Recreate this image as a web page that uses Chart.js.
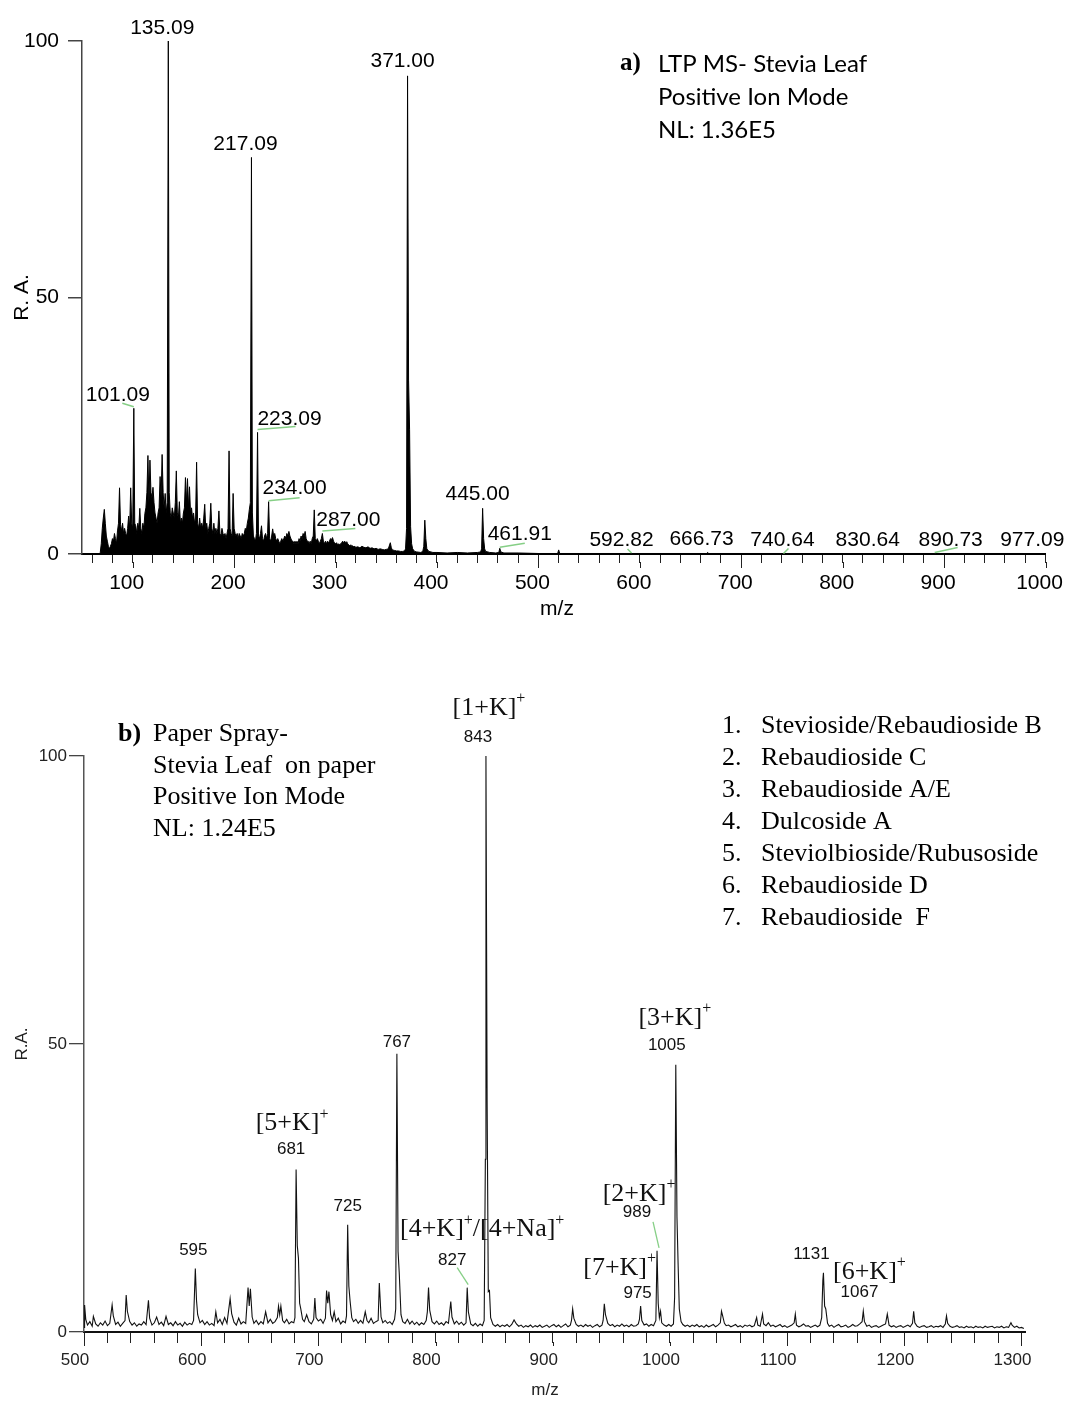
<!DOCTYPE html>
<html><head><meta charset="utf-8">
<script src="https://cdn.jsdelivr.net/npm/chart.js@4.4.1/dist/chart.umd.min.js"></script>
<style>
html,body{margin:0;padding:0;background:#fff;}
#wrap{position:relative;width:1070px;height:1402px;overflow:hidden;}
canvas{position:absolute;left:0;}
#ca{top:0}
#cb{top:650px}
</style></head><body>
<div id="wrap"><canvas id="ca" width="1070" height="650"></canvas><canvas id="cb" width="1070" height="752"></canvas></div>
<script>
// ---------------- DATA: panel a (LTP MS) ----------------
const spectrumA_low = [[67,0],[68,0.3],[69,2],[70,5],[71,7],[72,8.7],[73,6],[74,3.5],[75,2.5],[76,1.5],[77,1],[78,1.5],[79,2],[80,3],[81,2.5],[82,4],[83,3],[84,2],[85,4.5],[86,6],[87,12.9],[88,5.7],[89,4.5],[90,6],[91,4],[92,5],[93,4],[94,3.5],[95,5],[96,7.4],[97,5],[98,12.9],[99,6],[100,5],[101.09,28.4],[102,6],[103,5.5],[104,4],[105,6],[106,5],[107,8.9],[108,5],[109,4],[110,6],[111,5],[112,7.9],[113,9],[114,12],[115,19.2],[116,10],[117,18.3],[118,12],[119,11],[120,13],[121,10],[122,8],[123,7],[124,6],[125,8],[126,9],[127,15.1],[128,11],[129,19.4],[130,12],[131,9],[132,11.8],[133,8],[134,10],[135.09,100],[136,12],[137,8],[138,7],[139,9],[140,8],[141,7],[142,10],[143,16.2],[144,8],[145,7],[146,10.2],[147,6],[148,7],[149,6],[150,8],[151,9],[152,14.9],[153,10],[154,14.7],[155,9],[156,13.1],[157,8],[158,9],[159,7],[160,8],[161,6],[162,7],[163,17.9],[164,6],[165,5],[166,7],[167,5],[168,6],[169,5]];
const spectrumA_mid = [[170,7],[171,9.7],[172,5],[173,6],[174,4],[175,5],[176,6],[177,9.9],[178,5],[179,4],[180,6],[181,4],[182,5],[183,4],[184,5],[185,8.4],[186,4],[187,3.5],[188,5],[189,4],[190,3.5],[191,4],[192,3],[193,4],[194,5],[195,20.1],[196,5],[197,4],[198,3.5],[199,11.8],[200,5],[201,4],[202,3.5],[203,4],[204,3],[205,4],[206,3.5],[207,3],[208,4],[209,3.5],[210,4],[211,5],[212,4.5],[213,6],[214,7],[215,8.7],[216,10],[217.09,77.3],[218,8],[219,3.5],[220,3],[221,2.5],[222,4],[223.09,23.7],[224,3.5],[225,3],[226,4],[227,5.5],[228,3],[229,2.5],[230,3.5],[231,4],[232,3],[233,4],[234,10.2],[235,3],[236,2.5],[237,3.5],[238,4.9],[239,3.5],[240,4],[241,3],[242,2.5],[243,3],[244,2.5],[245,2],[246,2.5],[247,3],[248,2.5],[249,3],[250,3.5],[251,3],[252,4],[253,3.5],[254,4.4],[255,3.5],[256,3],[257,2.5],[258,2.5],[259,2],[260,2.5],[261,2],[262,2.5],[263,2],[264,3],[265,2.5],[266,3.5],[267,3],[268,4],[269,3.5]];
const spectrumA_high = [[270,4.4],[271,3],[272,2.5],[273,2.5],[274,2],[275,2.5],[276,2],[277,3],[278,3.5],[279,8.6],[280,3],[281,2.5],[282,3],[283,2.5],[284,2],[285,2.5],[286,3],[287,4],[288,2.5],[289,2],[290,2.5],[291,2],[292,2.5],[293,2.2],[294,2.5],[295,3],[296,2.8],[297,3.2],[298,2.5],[299,2.2],[300,2],[301,2.2],[302,1.8],[303,2],[304,1.8],[305,2],[306,2.2],[307,2.5],[308,2.2],[309,2.5],[310,2.2],[311,2.4],[312,2],[313,1.8],[314,1.6],[315,1.8],[316,1.5],[317,1.6],[318,1.4],[319,1.5],[320,1.3],[322,1.4],[324,1.2],[326,1.5],[328,1.3],[330,1.2],[332,1.4],[334,1.1],[336,1.2],[338,1.0],[340,1.1],[342,0.9],[344,1.0],[346,0.9],[348,0.8],[350,0.9],[352,1.0],[354,2.2],[355,1.2],[356,0.8],[358,0.7],[360,0.6],[362,0.6],[364,0.5],[366,0.5],[368,0.6],[369,1],[370,5],[371,93.2],[372,33.9],[373,24.2],[374,5.3],[375,2],[376,1],[378,0.5],[380,0.4],[384,0.3],[386,0.5],[387,1.5],[388,6.6],[389,3],[390,1],[392,0.5],[396,0.3],[400,0.3],[410,0.2],[420,0.3],[430,0.2],[440,0.3],[443,0.4],[444,1],[445,8.9],[446,3],[447,1],[448,0.5],[452,0.3],[458,0.2],[461,0.3],[461.91,1.1],[463,0.4],[466,0.2],[480,0.2],[500,0.1],[519,0.1],[520,0.8],[521,0.1],[560,0.1],[592.82,0.1],[666,0.1],[666.73,0.3],[668,0.1],[740.64,0.1],[800,0.05],[830.64,0.1],[890.73,0.1],[977.09,0.1],[1000,0.05]];
const peakLabelA = ['135.09','371.00','217.09','101.09','223.09','234.00','287.00','445.00','461.91','592.82','666.73','740.64','830.64','890.73','977.09'];
const peakMzA = [135.09,371.00,217.09,101.09,223.09,234.00,287.00,445.00,461.91,592.82,666.73,740.64,830.64,890.73,977.09];
const peakRaA = [100,93.2,77.3,28.4,23.7,10.2,4.0,8.9,1.1,0.1,0.3,0.1,0.1,0.1,0.1];
const xTickLabelsA = [100,200,300,400,500,600,700,800,900,1000];
const yTickLabelsA = [0,50,100];
const axisTitlesA = ['m/z','R. A.'];
const annotationA = ['LTP MS- Stevia Leaf','Positive Ion Mode','NL: 1.36E5'];

// ---------------- DATA: panel b (Paper Spray) ----------------
const spectrumB_500 = [[500,0.8],[500.5,4.7],[501.5,2.2],[503,1.2],[505,1.8],[507,1.0],[508,2.7],[510,1.4],[512,1.0],[514,1.6],[516,1.2],[518,1.9],[520,1.1],[522,1.5],[524,4.7],[525,2.8],[527,1.3],[529,1.7],[531,1.0],[533,1.5],[535,2.0],[536,6.4],[537,3.6],[539,1.8],[541,1.2],[543,1.6],[545,1.0],[547,1.4],[549,1.2],[551,1.8],[553,1.3],[555,5.5],[556,2.4],[558,1.2],[560,1.6],[562,2.6],[564,1.3],[566,1.7],[568,1.1],[570,2.7],[572,1.3],[574,1.6],[576,1.1],[578,1.8],[580,1.2],[582,1.5],[584,1.0],[586,1.7],[588,1.2],[590,1.5],[592,1.3],[593.5,2.0],[595,11.0],[596,5.5],[597,3.0],[599,1.6]];
const spectrumB_600 = [[601,2.0],[603,1.3],[605,1.8],[607,1.2],[609,1.5],[611,1.1],[612.5,3.5],[614,1.6],[616,2.2],[618,1.3],[620,2.5],[622,1.5],[624.7,5.8],[626,3.2],[628,1.7],[630,1.2],[632,2.4],[634,1.4],[636,1.8],[638,1.5],[640,7.7],[641,4.5],[642,7.5],[643.5,2.6],[645,1.5],[647,2.0],[649,1.3],[651,1.8],[653,1.4],[655,3.5],[657,1.6],[659,2.2],[661,1.5],[663,1.8],[665,2.5],[666,4.5],[667,3.0],[668,4.5],[669.5,2.0],[671,1.6],[673,2.2],[675,1.4],[677,1.8],[679,1.6],[680,2.5],[681,28.2],[682,15],[683,12.8],[684,5],[685,4],[686.5,2.2],[688,1.8],[690,3.0],[692,1.8],[694,1.4],[696,2.2],[697,5.9],[698,2.5],[700,1.9]];
const spectrumB_700 = [[702,2.2],[704,1.5],[706,2.4],[707,7.2],[708,5.0],[709,7.0],[710.5,3.0],[712,2.0],[713.5,3.5],[715,1.8],[717,2.4],[719,1.4],[721,1.9],[723,1.6],[724,2.8],[725,18.6],[726,8],[727,5.5],[728.5,2.5],[730,1.8],[732,2.2],[734,1.5],[736,2.0],[738,1.5],[740,3.5],[741.5,2.0],[743,1.6],[745,2.4],[747,1.5],[749,1.8],[751,2.0],[752,8.5],[753.5,2.6],[755,1.6],[757,2.0],[759,1.5],[761,1.8],[763,1.3],[765,2.2],[766,4.0],[767,48.3],[768,14],[769,10.3],[770.5,3.0],[772,1.8],[774,1.5],[776,2.2],[778,1.4],[780,1.9],[782,1.3],[784,1.7],[786,1.2],[788,1.6],[790,1.3],[792,2.0],[793,3.5],[794,7.7],[795,3.8],[797,1.8],[799,1.4]];
const spectrumB_800 = [[801,1.9],[803,1.3],[805,1.6],[807,1.2],[809,1.8],[811,1.5],[813,5.3],[814,2.6],[816,1.4],[818,1.9],[820,1.3],[822,1.7],[824,1.2],[826,1.6],[827,7.7],[828,3.5],[830,1.4],[832,1.1],[834,1.5],[836,1.0],[838,1.4],[840,1.1],[841.5,2],[842.5,30],[843,100],[844,40],[845,7],[846,7.2],[847,2.5],[849,1.3],[851,1.0],[853,1.3],[855,0.9],[857,1.2],[859,1.0],[861,1.3],[863,0.9],[865,1.3],[867,2.1],[869,1.4],[871,1.0],[873,1.2],[875,0.8],[877,1.1],[879,0.9],[881,1.2],[883,0.8],[885,1.1],[887,0.9],[889,1.2],[891,0.8],[893,1.0],[895,1.2],[897,0.8],[899,1.1]];
const spectrumB_900 = [[901,1.3],[903,0.9],[905,1.2],[907,0.8],[909,1.1],[911,1.4],[913,0.9],[915,1.2],[916,2.0],[917,4.0],[918,2.4],[920,1.3],[922,1.0],[924,1.2],[926,0.9],[928,1.3],[930,1.0],[932,1.2],[934,0.8],[936,1.1],[938,1.3],[940,0.9],[942,1.2],[943,2.0],[944,4.9],[945,3.0],[947,1.5],[949,1.1],[951,1.3],[953,0.9],[955,1.2],[957,1.0],[959,1.4],[961,1.0],[963,1.2],[965,0.9],[967,1.3],[969,1.0],[971,1.1],[973,1.4],[974,2.2],[975,4.5],[976,2.0],[978,1.2],[980,1.4],[982,1.0],[984,1.3],[986,1.1],[988,2.0],[989,14.1],[990,5],[991,2.5],[992,3.6],[993,1.6],[995,1.2],[997,1.0],[999,1.3]];
const spectrumB_1000 = [[1001,1.0],[1003,1.4],[1004,6],[1005,46.4],[1006,20],[1007,11.6],[1008,4],[1009.5,1.8],[1011,1.3],[1013,1.0],[1015,1.2],[1017,0.9],[1019,1.2],[1021,1.0],[1023,1.3],[1025,0.9],[1027,1.1],[1029,0.8],[1031,1.2],[1033,0.9],[1035,1.1],[1037,1.3],[1039,0.9],[1041,1.2],[1043,1.6],[1044,3.6],[1045,2.8],[1046.5,1.5],[1048,1.1],[1050,1.2],[1052,0.9],[1054,1.1],[1056,1.3],[1058,0.9],[1060,1.1],[1062,0.8],[1064,1.2],[1066,1.0],[1068,1.2],[1070,0.9],[1072,1.1],[1074,2.5],[1075,1.2],[1077,1.0],[1079,3.1],[1080,1.4],[1082,1.1],[1084,1.6],[1086,1.0],[1088,1.2],[1090,0.9],[1092,1.1],[1094,1.3],[1096,0.9],[1098,1.1]];
const spectrumB_1100 = [[1100,0.8],[1102,1.0],[1104,1.2],[1106,1.6],[1107,3.1],[1108,1.2],[1110,0.9],[1112,1.1],[1114,1.4],[1116,1.0],[1118,1.1],[1120,0.8],[1122,1.0],[1124,1.2],[1126,0.9],[1128,1.2],[1129.5,2.5],[1130.5,9],[1131,10.3],[1132,4.5],[1133,4.0],[1134.5,1.5],[1136,1.0],[1138,1.2],[1140,0.8],[1142,1.1],[1144,1.3],[1146,0.9],[1148,1.0],[1150,1.2],[1152,0.8],[1154,1.0],[1156,1.3],[1158,1.0],[1160,1.1],[1162,1.4],[1164,1.8],[1165,3.6],[1166,1.8],[1168,1.0],[1170,1.2],[1172,0.8],[1174,1.0],[1176,1.1],[1178,0.8],[1180,1.0],[1182,1.2],[1184,1.4],[1185.5,3.1],[1187,1.2],[1189,0.9],[1191,1.1],[1193,0.8],[1195,1.0],[1197,1.1],[1199,0.8]];
const spectrumB_1200 = [[1201,1.0],[1203,1.2],[1205,0.9],[1207,1.5],[1208,3.6],[1209,1.6],[1211,1.0],[1213,0.8],[1215,1.0],[1217,1.1],[1219,0.8],[1221,0.9],[1223,1.1],[1225,0.8],[1227,1.0],[1229,0.9],[1231,1.1],[1233,0.8],[1235,1.4],[1236,2.8],[1237,1.5],[1239,1.0],[1241,0.8],[1243,0.9],[1245,1.1],[1247,0.8],[1249,0.9],[1251,0.7],[1253,1.0],[1255,0.8],[1257,0.9],[1259,0.7],[1261,1.0],[1263,0.8],[1265,0.9],[1267,0.7],[1269,1.0],[1271,0.8],[1273,0.9],[1275,1.0],[1277,0.7],[1279,0.9],[1281,0.8],[1283,1.0],[1285,0.7],[1287,0.9],[1289,0.8],[1291,1.6],[1292,1.2],[1294,0.8],[1296,1.0],[1298,0.7],[1300,0.8],[1302,0.6]];
const peakMzB = [843,767,1005,681,725,595,827,989,975,1131];
const peakRaB = [100,48.3,46.4,28.2,18.6,11.0,7.7,14.1,4.5,10.3];
const massLabelB = ['843','767','1005','681','725','595','827','989','975','1131'];
const ionLabelB = [['[1+K]','+'],null,['[3+K]','+'],['[5+K]','+'],null,null,['[4+K]','+','/[4+Na]','+'],['[2+K]','+'],['[7+K]','+'],['[6+K]','+']];
const extraLabelB = ['1067'];
const xTickLabelsB = [500,600,700,800,900,1000,1100,1200,1300];
const yTickLabelsB = [0,50,100];
const axisTitlesB = ['m/z','R.A.'];
const annotationB = ['Paper Spray-','Stevia Leaf  on paper','Positive Ion Mode','NL: 1.24E5'];
const compoundNumB = ['1.','2.','3.','4.','5.','6.','7.'];
const compoundNameB = ['Stevioside/Rebaudioside B','Rebaudioside C','Rebaudioside A/E','Dulcoside A','Steviolbioside/Rubusoside','Rebaudioside D','Rebaudioside  F'];
const panelLabels = ['a)','b)'];

// ---------------- LAYOUT / STYLE (pixel offsets, not data) ----------------
const SANS = "'Liberation Sans', Arial, sans-serif";
const SERIF = "'Liberation Serif', 'Times New Roman', serif";
const CAL = "Lato, 'Open Sans', sans-serif";
const labelOffsetA = [[-6,-13],[-5,-15],[-6,-13],[-16,-13],[32,-13],[26,-13],[26,-13.5],[-5,-14],[20,-14],[-11,-13.5],[-6,-13.5],[0,-13.5],[-6,-13.5],[16,-13.5],[10,-13.5]];
const leaderA = {3:[[-11.5,-5],[0,-1.5]],4:[[0,-3],[38,-6]],5:[[0,-1],[31,-4]],6:[[0,-2.5],[33,-5]],8:[[0,-1],[25,-5]],9:[[-5,-4.5],[-1,-0.5]],11:[[1,0],[6,-5]],13:[[0,-1],[23,-6]]};
const massOffsetB = [[-8,-19],[0,-11],[-9,-19],[-5,-20],[0,-19],[-2,-18],[-15,-27],[-20,-38],[-3,-13],[-12,-18]];
const ionOffsetB = [[3,-48],null,[-1,-47],[-4,-46],null,null,[15,-58],[-18,-57],[-21,-38],[46,-1]];
const extraOffsetB = [[9,[36,20]]];
const leaderB = {6:[[-10,-20],[1,-3]],7:[[-4,-29],[2,-3]]};

function toXY(arr){ return arr.map(p => ({x:p[0], y:p[1]})); }

function drawMajorTicks(chart, labels, minorLen, majorLen, color, width){
  const xs = chart.scales.x, ctx = chart.ctx;
  ctx.save(); ctx.strokeStyle = color; ctx.lineWidth = width;
  labels.forEach(v => { const px = Math.round(xs.getPixelForValue(v)) + 0.5; ctx.beginPath(); ctx.moveTo(px, xs.top + minorLen - 1); ctx.lineTo(px, xs.top + majorLen); ctx.stroke(); });
  ctx.restore();
}
function drawIon(ctx, segs, cx, cy, size, supSize){
  let w = 0; const ws = segs.map((s,i) => { ctx.font = (i%2 ? supSize : size) + 'px ' + SERIF; const m = ctx.measureText(s).width; w += m; return m; });
  let x = cx - w/2;
  ctx.textAlign = 'left'; ctx.textBaseline = 'middle';
  segs.forEach((s,i) => { ctx.font = (i%2 ? supSize : size) + 'px ' + SERIF; ctx.fillText(s, x, i%2 ? cy - 9 : cy); x += ws[i]; });
}

const annotA = {
  id: 'annotA',
  afterDraw(chart){
    const ctx = chart.ctx, xs = chart.scales.x, ys = chart.scales.y;
    drawMajorTicks(chart, xTickLabelsA, 9, 14, '#222', 1);
    ctx.save();
    peakLabelA.forEach((t,i) => {
      const px = xs.getPixelForValue(peakMzA[i]), py = ys.getPixelForValue(peakRaA[i]);
      const ld = leaderA[i];
      if (ld){ ctx.strokeStyle = '#86cf86'; ctx.lineWidth = 1.5; ctx.beginPath(); ctx.moveTo(px+ld[0][0], py+ld[0][1]); ctx.lineTo(px+ld[1][0], py+ld[1][1]); ctx.stroke(); }
      ctx.fillStyle = '#000'; ctx.font = '21px ' + SANS; ctx.textAlign = 'center'; ctx.textBaseline = 'middle';
      ctx.fillText(t, px + labelOffsetA[i][0], py + labelOffsetA[i][1]);
    });
    ctx.textAlign = 'center'; ctx.textBaseline = 'middle'; ctx.fillStyle = '#000';
    ctx.font = '21px ' + SANS; ctx.fillText(axisTitlesA[0], 557, 609);
    ctx.textAlign = 'left';
    ctx.font = 'bold 25px ' + SERIF; ctx.fillText(panelLabels[0], 620, 64);
    ctx.font = '24px ' + CAL;
    annotationA.forEach((t,i) => ctx.fillText(t, 658, 64 + i*33));
    ctx.restore();
  }
};

const annotB = {
  id: 'annotB',
  afterDraw(chart){
    const ctx = chart.ctx, xs = chart.scales.x, ys = chart.scales.y;
    drawMajorTicks(chart, xTickLabelsB, 11, 14, '#222', 1);
    ctx.save();
    ctx.fillStyle = '#111';
    const pk = i => [xs.getPixelForValue(peakMzB[i]), ys.getPixelForValue(peakRaB[i])];
    Object.keys(leaderB).forEach(k => {
      const [px,py] = pk(+k), ld = leaderB[k];
      ctx.strokeStyle = '#86cf86'; ctx.lineWidth = 1.3; ctx.beginPath(); ctx.moveTo(px+ld[0][0], py+ld[0][1]); ctx.lineTo(px+ld[1][0], py+ld[1][1]); ctx.stroke();
    });
    massLabelB.forEach((t,i) => {
      const [px,py] = pk(i);
      ctx.font = '17px ' + SANS; ctx.textAlign = 'center'; ctx.textBaseline = 'middle';
      ctx.fillText(t, px + massOffsetB[i][0], py + massOffsetB[i][1]);
      if (ionLabelB[i]) drawIon(ctx, ionLabelB[i], px + ionOffsetB[i][0], py + ionOffsetB[i][1], 26, 16);
    });
    extraLabelB.forEach((t,i) => {
      const [pi, off] = extraOffsetB[i]; const [px,py] = pk(pi);
      ctx.font = '17px ' + SANS; ctx.textAlign = 'center'; ctx.textBaseline = 'middle';
      ctx.fillText(t, px + off[0], py + off[1]);
    });
    ctx.fillStyle = '#222'; ctx.textAlign = 'center'; ctx.textBaseline = 'middle';
    ctx.font = '17px ' + SANS; ctx.fillText(axisTitlesB[0], 545, 740);
    ctx.fillStyle = '#000'; ctx.textAlign = 'left';
    ctx.font = 'bold 26px ' + SERIF; ctx.fillText(panelLabels[1], 118, 84);
    ctx.font = '26px ' + SERIF;
    annotationB.forEach((t,i) => ctx.fillText(t, 153, 84 + i*31.7));
    compoundNumB.forEach((t,i) => { ctx.fillText(t, 722, 76 + i*32); ctx.fillText(compoundNameB[i], 761, 76 + i*32); });
    ctx.restore();
  }
};

Chart.defaults.font.family = SANS;

new Chart(document.getElementById('ca'), {
  type: 'line',
  data: { datasets: [{ data: toXY([...spectrumA_low, ...spectrumA_mid, ...spectrumA_high]), borderColor: '#000', backgroundColor: '#000', borderWidth: 1, pointRadius: 0, fill: 'origin', tension: 0 }] },
  options: {
    responsive: false, animation: false, devicePixelRatio: 1,
    layout: { padding: { left: 0, top: 41, right: 24.5, bottom: 0 } },
    plugins: { legend: { display: false }, tooltip: { enabled: false } },
    scales: {
      x: { type: 'linear', min: 50, max: 1000,
        afterFit(s){ s.height = 96; s.paddingLeft = 0; s.paddingRight = 0; },
        ticks: { stepSize: 20, includeBounds: false, autoSkip: false, maxRotation: 0, labelOffset: -6, padding: 8, color: '#000', font: { family: SANS, size: 21 }, callback: v => xTickLabelsA.includes(v) ? String(v) : '' },
        grid: { display: true, drawOnChartArea: false, drawTicks: true, tickLength: 9, color: '#222', lineWidth: 1 },
        border: { display: true, color: '#000', width: 2 },
        title: { display: false, text: axisTitlesA[0] } },
      y: { type: 'linear', min: 0, max: 100,
        afterFit(s){ s.width = 82; s.paddingTop = 0; s.paddingBottom = 0; },
        ticks: { stepSize: 50, padding: 9, color: '#000', font: { family: SANS, size: 21 }, callback: v => yTickLabelsA.includes(v) ? String(v) : '' },
        grid: { display: true, drawOnChartArea: false, drawTicks: true, tickLength: 14, color: '#444', lineWidth: 1.5 },
        border: { display: true, color: '#444', width: 1.5 },
        title: { display: true, text: axisTitlesA[1], color: '#000', font: { family: SANS, size: 21 }, padding: { top: 10, bottom: 0 } } }
    }
  },
  plugins: [annotA]
});

new Chart(document.getElementById('cb'), {
  type: 'line',
  data: { datasets: [{ data: toXY([...spectrumB_500, ...spectrumB_600, ...spectrumB_700, ...spectrumB_800, ...spectrumB_900, ...spectrumB_1000, ...spectrumB_1100, ...spectrumB_1200]), borderColor: '#111', borderWidth: 1.1, pointRadius: 0, fill: false, tension: 0 }] },
  options: {
    responsive: false, animation: false, devicePixelRatio: 1,
    layout: { padding: { left: 0, top: 106, right: 45, bottom: 0 } },
    plugins: { legend: { display: false }, tooltip: { enabled: false } },
    scales: {
      x: { type: 'linear', min: 500, max: 1303,
        afterFit(s){ s.height = 70; s.paddingLeft = 0; s.paddingRight = 0; },
        ticks: { stepSize: 20, includeBounds: false, autoSkip: false, maxRotation: 0, labelOffset: -9, padding: 7, color: '#222', font: { family: SANS, size: 17 }, callback: v => xTickLabelsB.includes(v) ? String(v) : '' },
        grid: { display: true, drawOnChartArea: false, drawTicks: true, tickLength: 11, color: '#222', lineWidth: 1 },
        border: { display: true, color: '#111', width: 2 },
        title: { display: false, text: axisTitlesB[0] } },
      y: { type: 'linear', min: 0, max: 100,
        afterFit(s){ s.width = 84; s.paddingTop = 0; s.paddingBottom = 0; },
        ticks: { stepSize: 50, padding: 2, color: '#222', font: { family: SANS, size: 17 }, callback: v => yTickLabelsB.includes(v) ? String(v) : '' },
        grid: { display: true, drawOnChartArea: false, drawTicks: true, tickLength: 15, color: '#444', lineWidth: 1.3 },
        border: { display: true, color: '#555', width: 1.5 },
        title: { display: true, text: axisTitlesB[1], color: '#222', font: { family: SANS, size: 17 }, padding: { top: 12, bottom: 0 } } }
    }
  },
  plugins: [annotB]
});
</script>
</body></html>
